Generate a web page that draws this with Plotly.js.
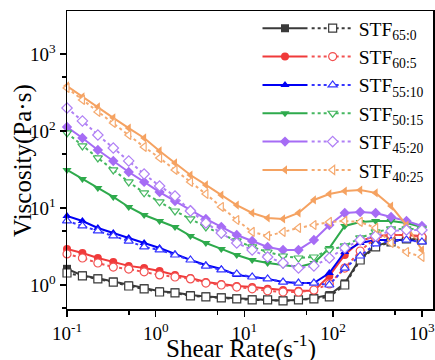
<!DOCTYPE html>
<html>
<head>
<meta charset="utf-8">
<script src="https://cdn.plot.ly/plotly-3.0.1.min.js"></script>
<style>html,body{margin:0;padding:0;background:#fff;}#chart{width:435px;height:360px;}</style>
</head>
<body>
<div id="chart"></div>
<script>
// Shear rate (s^-1)
const shearRate = [0.1, 0.1492, 0.2227, 0.3324, 0.4961, 0.7403, 1.105, 1.649, 2.462, 3.674, 5.484, 8.185,
  12.22, 18.24, 27.22, 40.62, 60.63, 90.48, 135.0, 201.5, 300.8, 449.0, 670.1, 1000];

const labels = ['STF<sub>65:0</sub>', 'STF<sub>60:5</sub>', 'STF<sub>55:10</sub>', 'STF<sub>50:15</sub>', 'STF<sub>45:20</sub>', 'STF<sub>40:25</sub>'];

// Solid lines (filled markers)
const stf65_0_solid = [1.62, 1.33, 1.22, 1.11, 0.99, 0.91, 0.83, 0.80, 0.74, 0.71, 0.69, 0.67, 0.65, 0.64, 0.63, 0.64, 0.68, 0.74, 1.05, 2.2, 3.2, 3.7, 3.95, 3.85];
const stf60_5_solid = [2.94, 2.60, 2.24, 1.99, 1.77, 1.66, 1.52, 1.35, 1.23, 1.09, 1.03, 0.97, 0.94, 0.89, 0.86, 0.84, 0.84, 1.31, 2.45, 3.72, 4.33, 4.46, 4.46, 4.33];
const stf55_10_solid = [7.87, 6.78, 5.50, 4.73, 4.08, 3.51, 3.02, 2.53, 2.11, 1.82, 1.61, 1.35, 1.27, 1.20, 1.09, 1.06, 1.06, 1.43, 2.68, 3.51, 3.84, 3.84, 3.84, 3.72];
const stf50_15_solid = [31.2, 23.8, 18.2, 13.9, 10.3, 8.11, 6.78, 5.67, 4.33, 3.51, 2.94, 2.45, 2.11, 1.93, 1.82, 1.71, 1.93, 3.02, 5.84, 6.58, 6.78, 6.78, 6.38, 5.67];
const stf45_20_solid = [112.7, 81.1, 56.6, 40.8, 29.3, 21.8, 16.1, 12.3, 9.42, 7.2, 5.67, 4.46, 3.73, 3.12, 2.85, 2.85, 3.84, 6.01, 8.61, 8.87, 8.61, 7.64, 6.78, 5.84];
const stf40_25_solid = [384, 277, 205, 148, 109, 81.1, 55.0, 38.4, 26.8, 19.9, 14.7, 10.9, 8.61, 7.41, 7.2, 8.61, 12.7, 15.2, 16.6, 17.1, 15.7, 10.6, 6.01, 2.85];

// Dotted lines (open markers)
const stf65_0_dot = [1.43, 1.31, 1.20, 1.09, 0.97, 0.89, 0.81, 0.79, 0.72, 0.70, 0.68, 0.66, 0.64, 0.64, 0.62, 0.64, 0.66, 0.70, 1.0, 2.11, 3.12, 3.62, 3.96, 3.84];
const stf60_5_dot = [2.53, 2.24, 1.93, 1.71, 1.61, 1.48, 1.35, 1.27, 1.20, 1.06, 1.0, 0.94, 0.89, 0.84, 0.81, 0.81, 0.86, 1.03, 1.66, 2.76, 4.08, 4.46, 4.46, 4.2];
const stf55_10_dot = [6.78, 5.84, 5.03, 4.33, 3.72, 3.12, 2.85, 2.45, 2.11, 1.76, 1.57, 1.39, 1.27, 1.20, 1.09, 1.06, 1.06, 1.0, 1.66, 2.38, 3.41, 3.72, 3.84, 3.62];
const stf50_15_dot = [94.2, 63.9, 44.6, 31.2, 21.8, 15.7, 12.0, 9.14, 7.2, 5.67, 4.59, 3.73, 3.12, 2.68, 2.38, 2.24, 2.31, 2.85, 3.21, 4.08, 4.88, 5.34, 5.34, 5.34];
const stf45_20_dot = [199, 135, 88.7, 60.1, 40.8, 27.6, 19.3, 14.3, 9.14, 6.38, 4.73, 3.51, 2.85, 2.31, 1.93, 1.66, 1.77, 2.24, 3.02, 3.84, 4.33, 5.03, 5.18, 5.18];
const stf40_25_dot = [362, 253, 177, 127, 88.7, 62.0, 44.6, 31.2, 21.8, 15.2, 10.3, 6.98, 4.88, 4.33, 4.88, 5.50, 6.01, 6.58, 6.78, 6.58, 5.50, 3.51, 2.68, 2.31];

const xTickVals = [0.1, 1, 10, 100, 1000];
const xTickText = ['10<sup>-1</sup>', '10<sup>0</sup>', '10<sup>1</sup>', '10<sup>2</sup>', '10<sup>3</sup>'];
const yTickVals = [1, 10, 100, 1000];
const yTickText = ['10<sup>0</sup>', '10<sup>1</sup>', '10<sup>2</sup>', '10<sup>3</sup>'];
const minorVals = [0.5, 5, 50, 500];

const solidSeries = [stf65_0_solid, stf60_5_solid, stf55_10_solid, stf50_15_solid, stf45_20_solid, stf40_25_solid];
const dotSeries = [stf65_0_dot, stf60_5_dot, stf55_10_dot, stf50_15_dot, stf45_20_dot, stf40_25_dot];
const colors = ['#3a3a3a', '#f03a3a', '#0000f5', '#2eaa4c', '#a66cf5', '#f5a261'];
const dotColors = ['#3a3a3a', '#f25050', '#3535ff', '#45b760', '#b080f5', '#f5aa70'];
const solidSym = ['square', 'circle', 'triangle-up', 'triangle-down', 'diamond', 'triangle-left'];

const traces = [];
for (let k = 0; k < 6; k++) {
  traces.push({
    x: shearRate, y: solidSeries[k], type: 'scatter', mode: 'lines+markers',
    name: ' ', legend: 'legend', cliponaxis: false,
    line: {color: colors[k], width: 2},
    marker: {symbol: solidSym[k], size: 8, color: colors[k]}
  });
}
for (let k = 0; k < 6; k++) {
  traces.push({
    x: shearRate, y: dotSeries[k], type: 'scatter', mode: 'lines+markers',
    name: labels[k], legend: 'legend2', cliponaxis: false,
    line: {color: dotColors[k], width: 2, dash: 'dot'},
    marker: {symbol: solidSym[k], size: 8, color: '#ffffff', line: {width: 1.2, color: dotColors[k]}}
  });
}

const FONT = 'Liberation Serif, Times New Roman, serif';
const layout = {
  width: 435, height: 360,
  margin: {l: 67, r: 2, t: 11, b: 51},
  paper_bgcolor: '#fff', plot_bgcolor: '#fff',
  font: {family: FONT, color: '#000', size: 18},
  showlegend: true,
  legend: {
    x: 0.5205, xanchor: 'left', y: 1.0067, yanchor: 'top', maxheight: 320,
    bgcolor: 'rgba(0,0,0,0)', borderwidth: 0, itemwidth: 45, tracegroupgap: 0,
    font: {family: FONT, size: 19.5, color: '#000'}
  },
  legend2: {
    x: 0.6548, xanchor: 'left', y: 1.0067, yanchor: 'top', maxheight: 320,
    bgcolor: 'rgba(0,0,0,0)', borderwidth: 0, itemwidth: 42, tracegroupgap: 0,
    font: {family: FONT, size: 19.5, color: '#000'}
  },
  xaxis: {
    type: 'log', range: [-1, 3.125],
    tickmode: 'array', tickvals: xTickVals, ticktext: xTickText,
    ticks: 'outside', ticklen: 6, tickwidth: 1.5, tickcolor: '#000', ticklabelstandoff: 1,
    ticklabeloverflow: 'allow',
    minor: {tickmode: 'array', tickvals: minorVals, ticks: 'outside', ticklen: 4, tickwidth: 1.5, tickcolor: '#000', showgrid: false},
    showline: true, linecolor: '#000', linewidth: 1.5, mirror: true,
    showgrid: false, zeroline: false,
    tickfont: {family: FONT, size: 19, color: '#000'}
  },
  yaxis: {
    type: 'log', range: [-0.312, 3.558],
    tickmode: 'array', tickvals: yTickVals, ticktext: yTickText,
    ticks: 'outside', ticklen: 6, tickwidth: 1.5, tickcolor: '#000',
    ticklabeloverflow: 'allow',
    minor: {tickmode: 'array', tickvals: minorVals, ticks: 'outside', ticklen: 4, tickwidth: 1.5, tickcolor: '#000', showgrid: false},
    showline: true, linecolor: '#000', linewidth: 1.5, mirror: true,
    showgrid: false, zeroline: false,
    tickfont: {family: FONT, size: 19, color: '#000'}
  },
  annotations: [{
    text: 'Viscosity(Pa·s)', textangle: -90, showarrow: false,
    xref: 'paper', yref: 'paper', x: -0.1205, y: 0.5, xanchor: 'center', yanchor: 'middle',
    font: {family: FONT, size: 25, color: '#000'}
  }, {
    text: 'Shear Rate(s<sup>-1</sup>)', showarrow: false,
    xref: 'paper', yref: 'paper', x: 0.4767, y: -0.126, xanchor: 'center', yanchor: 'middle',
    font: {family: FONT, size: 25, color: '#000'}
  }]
};

Plotly.newPlot('chart', traces, layout, {displayModeBar: false, staticPlot: true});
</script>
</body>
</html>
